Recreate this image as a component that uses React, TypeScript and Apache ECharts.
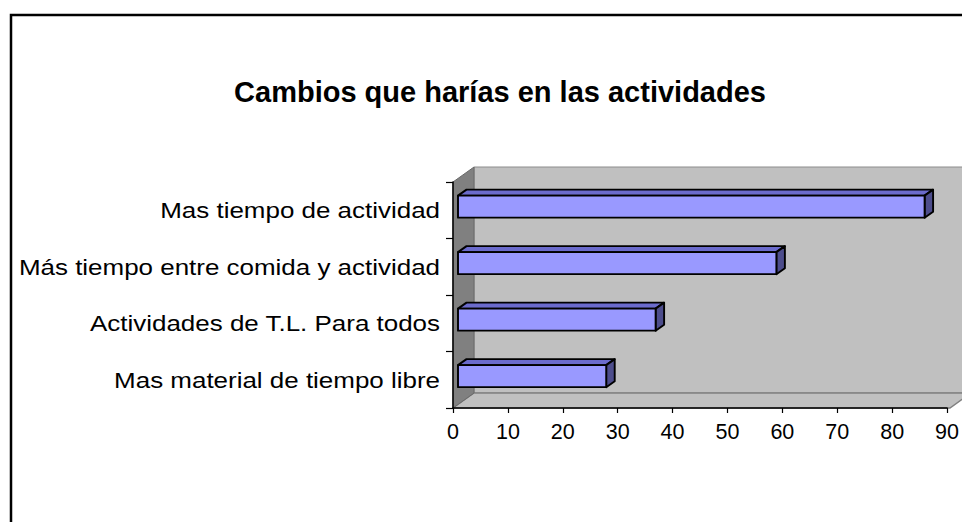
import React, { useEffect, useRef } from "react";
import * as echarts from "echarts";

const titleText = "Cambios que harías en las actividades";
const categories = [
  "Mas tiempo de actividad",
  "Más tiempo entre comida y actividad",
  "Actividades de T.L. Para todos",
  "Mas material de tiempo libre",
];
const values = [85, 58, 36, 27];
const xMin = 0;
const xMax = 90;
const xInterval = 10;

const FONT = "'Liberation Sans', Arial, sans-serif";

// layout constants
const GL = 453;
const GT = 182;
const GW = 497;
const GH = 226;
const WDX = 21;
const WDY = -15;

export default function App() {
  const ref = useRef<HTMLDivElement>(null);
  useEffect(() => {
    if (!ref.current) return;
    const chart = echarts.init(ref.current, null, { renderer: "svg" });
    const GR = GL + GW;
    const GB = GT + GH;
    const option: any = {
      animation: false,
      backgroundColor: "#ffffff",
      title: {
        text: titleText,
        left: 495,
        top: 72,
        textAlign: "center",
        textStyle: { fontFamily: FONT, fontSize: 29, fontWeight: "bold", color: "#000" },
      },
      grid: { left: GL, top: GT, width: GW, height: GH, containLabel: false },
      xAxis: {
        type: "value",
        min: xMin,
        max: xMax,
        interval: xInterval,
        z: 5,
        axisLine: { show: true, lineStyle: { color: "#000", width: 1.5 } },
        axisTick: { show: true, length: 5, lineStyle: { color: "#000", width: 1.2 } },
        axisLabel: { margin: 13, fontFamily: FONT, fontSize: 21.5, color: "#000" },
        splitLine: { show: false },
      },
      yAxis: {
        type: "category",
        data: categories,
        inverse: true,
        z: 5,
        axisLine: { show: true, lineStyle: { color: "#000", width: 1.5 } },
        axisTick: { show: true, length: 7, lineStyle: { color: "#000", width: 1.2 } },
        axisLabel: { show: false },
        splitLine: { show: false },
      },
      graphic: [
        {
          id: "backwall",
          type: "rect",
          z: -5,
          shape: { x: GL + WDX, y: GT + WDY, width: GW + 40, height: GH },
          style: { fill: "#c0c0c0", stroke: "#8c8c8c", lineWidth: 1 },
        },
        {
          id: "floor",
          type: "polygon",
          z: -4,
          shape: {
            points: [
              [GL, GB],
              [GL + WDX, GB + WDY],
              [GR + WDX, GB + WDY],
              [GR, GB],
            ],
          },
          style: { fill: "#c0c0c0", stroke: "#808080", lineWidth: 1.5 },
        },
        {
          id: "leftwall",
          type: "polygon",
          z: -3,
          shape: {
            points: [
              [GL, GT],
              [GL + WDX, GT + WDY],
              [GL + WDX, GB + WDY],
              [GL, GB],
            ],
          },
          style: { fill: "#808080", stroke: "#6a6a6a", lineWidth: 1 },
        },
        {
          id: "border",
          type: "rect",
          z: 50,
          shape: { x: 11, y: 15, width: 1000, height: 600 },
          style: { fill: "none", stroke: "#000", lineWidth: 2.5 },
        },
      ],
      series: [
        {
          type: "custom",
          z: 3,
          encode: { x: 0, y: 1 },
          data: values.map((v, i) => [v, i]),
          renderItem: (params: any, api: any) => {
            const v = api.value(0);
            const c = api.value(1);
            const p0 = api.coord([0, c]);
            const p1 = api.coord([v, c]);
            const band = api.size([0, 1])[1];
            const h = band * 0.39;
            const fx = 5;
            const fy = -3.6;
            const dx = 8.5;
            const dy = -6;
            const x0 = p0[0] + fx;
            const x1 = p1[0] + fx;
            const yc = p0[1] + fy;
            const yt = yc - h / 2;
            const yb = yc + h / 2;
            const stroke = { stroke: "#000", lineWidth: 1.9, lineJoin: "round" };
            return {
              type: "group",
              children: [
                {
                  type: "polygon",
                  shape: { points: [[x0, yt], [x0 + dx, yt + dy], [x1 + dx, yt + dy], [x1, yt]] },
                  style: { fill: "#6b6bcc", ...stroke },
                },
                {
                  type: "polygon",
                  shape: { points: [[x1, yt], [x1 + dx, yt + dy], [x1 + dx, yb + dy], [x1, yb]] },
                  style: { fill: "#4d4d8c", ...stroke },
                },
                {
                  type: "rect",
                  shape: { x: x0, y: yt, width: x1 - x0, height: h },
                  style: { fill: "#9999ff", ...stroke },
                },
              ],
            };
          },
        },
      ],
    };
    chart.setOption(option);
    const labels = categories.map((cat, i) => {
      const py = chart.convertToPixel({ yAxisIndex: 0 }, cat) as number;
      return {
        id: "catlabel" + i,
        type: "text",
        z: 10,
        x: GL - 13,
        y: py,
        scaleX: 1.18,
        style: {
          text: cat,
          fontFamily: FONT,
          fontSize: 22,
          fill: "#000",
          align: "right",
          verticalAlign: "middle",
        },
      };
    });
    chart.setOption({ graphic: labels });
    return () => chart.dispose();
  }, []);
  return (
    <div
      ref={ref}
      style={{ position: "fixed", left: 0, top: 0, width: 962, height: 522, background: "#fff" }}
    />
  );
}
